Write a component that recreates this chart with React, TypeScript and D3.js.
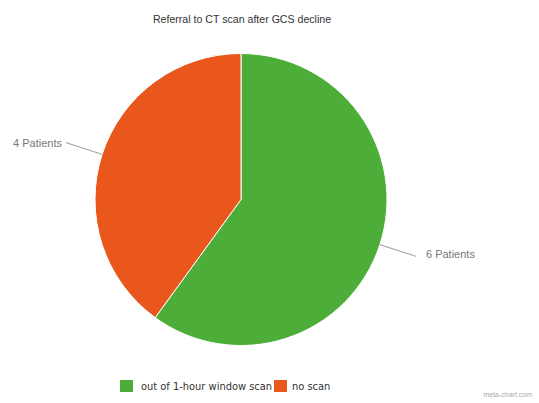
import React from "react";
import * as d3 from "d3";

const categories = ["out of 1-hour window scan", "no scan"];
const values = [6, 4];
const sliceLabels = ["6 Patients", "4 Patients"];
const colors = ["#4cae38", "#ea571d"];
const title = "Referral to CT scan after GCS decline";

export default function App() {
  const W = 539, H = 403;
  const cx = 241, cy = 199.5, r = 146;
  const pie = d3.pie<number>().sort(null).value((d) => d)(values);
  const arc = d3.arc<d3.PieArcDatum<number>>().innerRadius(0).outerRadius(r);

  const legendItems = [
    { sx: 120, tx: 141 },
    { sx: 274, tx: 292 },
  ];

  return (
    <svg width={W} height={H} style={{ position: "absolute", left: 0, top: 0, background: "#fff" }}>
      <text x={242} y={23} textAnchor="middle" fontFamily="Liberation Sans, Arial, sans-serif" fontSize={10.6} fill="#333">
        {title}
      </text>
      <g transform={`translate(${cx},${cy})`}>
        {pie.map((p, i) => (
          <path key={i} d={arc(p) || ""} fill={colors[i]} stroke="#fff" strokeWidth={1} />
        ))}
        {pie.map((p, i) => {
          const a = (p.startAngle + p.endAngle) / 2;
          const dx = Math.sin(a), dy = -Math.cos(a);
          const x1 = dx * r, y1 = dy * r;
          const x2 = dx * (r + 38), y2 = dy * (r + 38);
          const right = dx > 0;
          return (
            <g key={"l" + i}>
              <line x1={x1} y1={y1} x2={x2} y2={y2} stroke="#999" strokeWidth={1} />
              <text
                x={x2 + (right ? 10 : -4)}
                y={y2 + (right ? -1.5 : 1)}
                textAnchor={right ? "start" : "end"}
                dominantBaseline="middle"
                fontFamily="Liberation Sans, Arial, sans-serif"
                fontSize={11}
                fill="#777"
              >
                {sliceLabels[i]}
              </text>
            </g>
          );
        })}
      </g>
      {categories.map((c, i) => (
        <g key={"lg" + i}>
          <rect x={legendItems[i].sx} y={380} width={13} height={12} fill={colors[i]} />
          <text x={legendItems[i].tx} y={390} fontFamily="DejaVu Sans, Verdana, sans-serif" fontSize={9.9} fill="#333">
            {c}
          </text>
        </g>
      ))}
      <text x={532} y={397} textAnchor="end" fontFamily="Liberation Sans, Arial, sans-serif" fontSize={7} fill="#aaa">
        meta-chart.com
      </text>
    </svg>
  );
}
